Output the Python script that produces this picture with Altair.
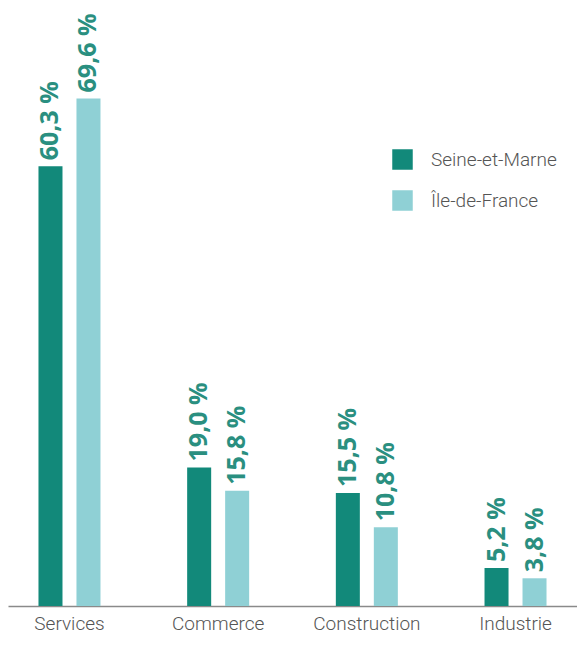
import altair as alt
import pandas as pd

categories = ["Services", "Commerce", "Construction", "Industrie"]
regions = ["Seine-et-Marne", "Île-de-France"]
seine_et_marne = [60.3, 19.0, 15.5, 5.2]
ile_de_france = [69.6, 15.8, 10.8, 3.8]

dark = "#12897a"
light = "#8fd0d5"
label_color = "#2a8f80"
font = "Roboto"

rows = []
for i, c in enumerate(categories):
    for r, vals in zip(regions, [seine_et_marne, ile_de_france]):
        v = vals[i]
        rows.append({"cat": c, "region": r, "value": v,
                     "label": f"{v:.1f}".replace(".", ",") + " %"})
df = pd.DataFrame(rows)

base = alt.Chart(df).encode(
    x=alt.X("cat:N", sort=categories,
            scale=alt.Scale(paddingInner=0.583, paddingOuter=0.205),
            axis=alt.Axis(title=None, labelAngle=0, labelFont=font, labelFontSize=19,
                          labelFontWeight=300,
                          labelColor="#555555", domainColor="#8a8a8a", domainWidth=1.5,
                          ticks=False, labelPadding=8)),
    xOffset=alt.XOffset("region:N", sort=regions,
                        scale=alt.Scale(paddingInner=0.368, paddingOuter=0)),
    y=alt.Y("value:Q", scale=alt.Scale(domain=[0, 82]), axis=None),
)

bars = base.mark_bar().encode(
    color=alt.Color("region:N", sort=regions,
                    scale=alt.Scale(domain=regions, range=[dark, light]),
                    legend=alt.Legend(title=None, orient="none", legendX=384, legendY=141,
                                      symbolType="square", symbolSize=420,
                                      symbolStrokeWidth=0, labelFont=font,
                                      labelFontSize=19, labelFontWeight=300,
                                      labelColor="#555555",
                                      labelOffset=18, rowPadding=20))
)

text = base.mark_text(angle=270, align="left", baseline="middle", dx=6,
                      font="Open Sans", fontWeight="bold", fontSize=25,
                      color=label_color).encode(text="label:N")

chart = alt.layer(bars, text).properties(
    width=569, height=598,
    autosize=alt.AutoSizeParams(type="none"),
    padding={"left": 0, "top": 0, "right": 0, "bottom": 30},
).configure_view(stroke=None)

chart.save("out.html", embed_options={"renderer": "svg", "actions": False})
